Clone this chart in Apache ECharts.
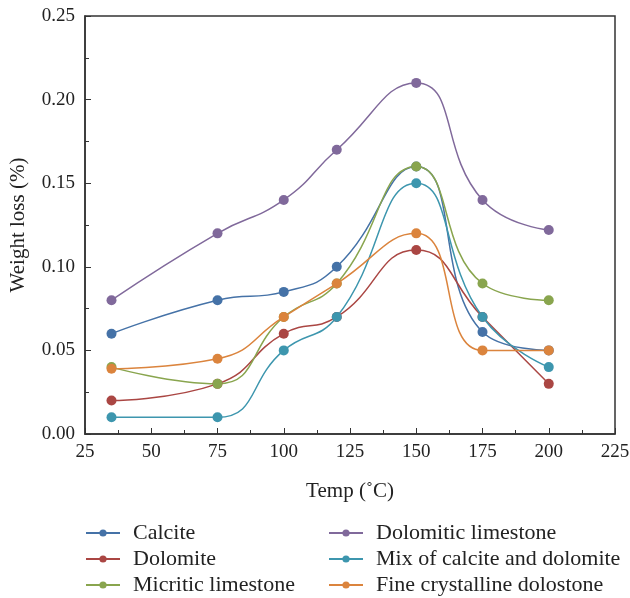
<!DOCTYPE html>
<html>
<head>
<meta charset="utf-8">
<script src="https://cdn.jsdelivr.net/npm/echarts@6/dist/echarts.min.js"></script>
<style>
  html, body { margin: 0; padding: 0; background: #fff; }
  #chart { width: 630px; height: 598px; }
</style>
</head>
<body>
<div id="chart"></div>
<script>
// temperatures (°C)
var temps = [35, 75, 100, 120, 150, 175, 200];

// weight loss (%) per rock type
var calcite = [0.06, 0.08, 0.085, 0.10, 0.16, 0.061, 0.05];
var dolomite = [0.02, 0.03, 0.06, 0.07, 0.11, 0.07, 0.03];
var micritic = [0.04, 0.03, 0.07, 0.09, 0.16, 0.09, 0.08];
var dolomiticLs = [0.08, 0.12, 0.14, 0.17, 0.21, 0.14, 0.122];
var mixCalDol = [0.01, 0.01, 0.05, 0.07, 0.15, 0.07, 0.04];
var fineDolo = [0.039, 0.045, 0.07, 0.09, 0.12, 0.05, 0.05];

var names = ['Calcite', 'Dolomite', 'Micritic limestone', 'Dolomitic limestone',
  'Mix of calcite and dolomite', 'Fine crystalline dolostone'];
var values = [calcite, dolomite, micritic, dolomiticLs, mixCalDol, fineDolo];
var colors = ['#4572A7', '#AA4643', '#89A54E', '#80699B', '#3D96AE', '#DB843D'];

var font = 'Liberation Serif';

function pairs(ys) {
  var out = [];
  for (var i = 0; i < temps.length; i++) out.push([temps[i], ys[i]]);
  return out;
}

var series = [];
for (var i = 0; i < names.length; i++) {
  series.push({
    name: names[i],
    type: 'line',
    smooth: 0.5,
    data: pairs(values[i]),
    symbol: 'circle',
    symbolSize: 10,
    lineStyle: { width: 1.5, color: colors[i] },
    itemStyle: { color: colors[i] }
  });
}

var legendBase = {
  orient: 'vertical',
  top: 522,
  height: 90,
  padding: 0,
  itemWidth: 34,
  itemHeight: 9,
  itemGap: 4,
  textStyle: { fontFamily: font, fontSize: 22, color: '#222', padding: [0, 0, 0, 8] }
};

var chart = echarts.init(document.getElementById('chart'));
chart.setOption({
  animation: false,
  color: colors,
  grid: {
    left: 85, right: 15, top: 16, bottom: 164,
    outerBoundsMode: 'none',
    show: true, borderColor: '#333', borderWidth: 1.5
  },
  legend: [
    Object.assign({}, legendBase, { left: 85, data: names.slice(0, 3) }),
    Object.assign({}, legendBase, { left: 328, data: names.slice(3) })
  ],
  xAxis: {
    type: 'value',
    min: 25, max: 225, interval: 25,
    name: 'Temp (\u02DAC)',
    nameLocation: 'middle',
    nameGap: 47,
    nameTextStyle: { fontFamily: font, fontSize: 21, color: '#222' },
    axisLine: { lineStyle: { color: '#333', width: 1.5 } },
    axisTick: { inside: true, length: 6, lineStyle: { color: '#333' } },
    minorTick: { show: true, splitNumber: 2, length: 4, lineStyle: { color: '#333' } },
    splitLine: { show: false },
    axisLabel: { fontFamily: font, fontSize: 19, color: '#222', margin: 9 }
  },
  yAxis: {
    type: 'value',
    min: 0, max: 0.25, interval: 0.05,
    name: 'Weight loss (%)',
    nameLocation: 'middle',
    nameGap: 56,
    nameTextStyle: { fontFamily: font, fontSize: 21, color: '#222' },
    axisLine: { lineStyle: { color: '#333', width: 1.5 } },
    axisTick: { inside: true, length: 6, lineStyle: { color: '#333' } },
    minorTick: { show: true, splitNumber: 2, length: 4, lineStyle: { color: '#333' } },
    splitLine: { show: false },
    axisLabel: {
      fontFamily: font, fontSize: 19, color: '#222', margin: 10,
      formatter: function (v) { return v.toFixed(2); }
    }
  },
  series: series
});
</script>
</body>
</html>
